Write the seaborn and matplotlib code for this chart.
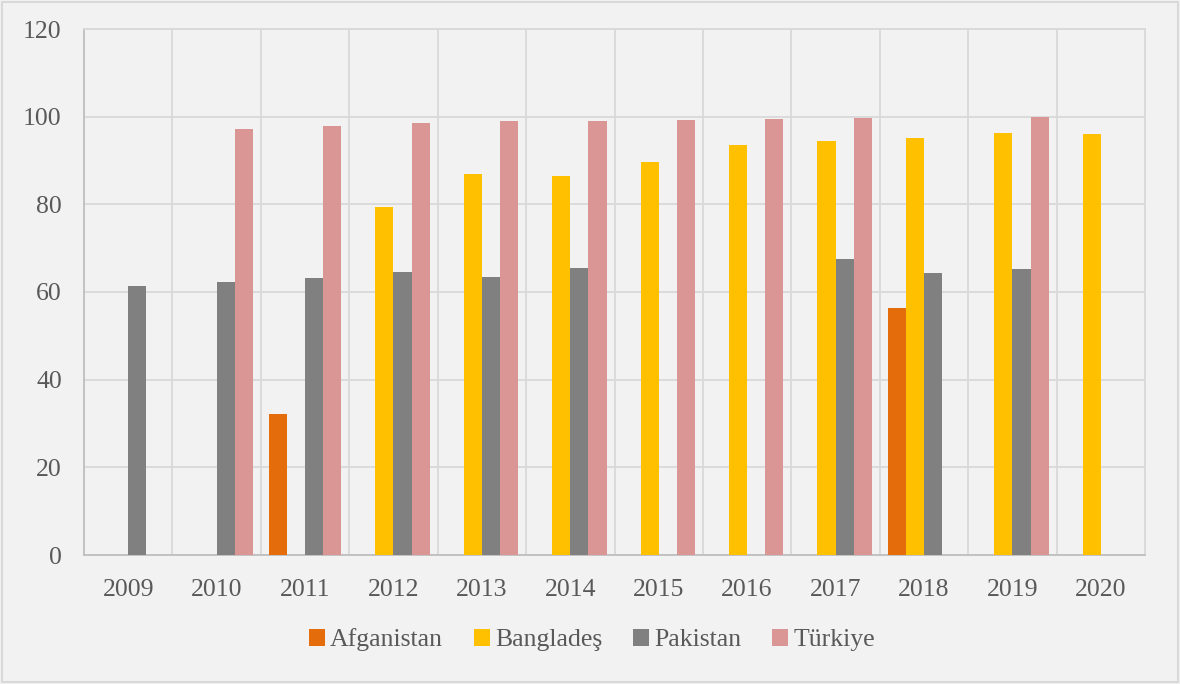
import matplotlib
matplotlib.use("Agg")
import matplotlib.pyplot as plt
import numpy as np
import pandas as pd
import seaborn as sns
from matplotlib.patches import Rectangle

years = ['2009', '2010', '2011', '2012', '2013', '2014',
         '2015', '2016', '2017', '2018', '2019', '2020']
countries = ['Afganistan', 'Bangladeş', 'Pakistan', 'Türkiye']

# values, nan = no bar
afganistan = [np.nan, np.nan, 32.2, np.nan, np.nan, np.nan,
              np.nan, np.nan, np.nan, 56.4, np.nan, np.nan]
banglades = [np.nan, np.nan, np.nan, 79.4, 87.0, 86.5,
             89.7, 93.6, 94.5, 95.1, 96.2, 96.0]
pakistan = [61.4, 62.3, 63.2, 64.5, 63.4, 65.5,
            np.nan, np.nan, 67.6, 64.4, 65.3, np.nan]
turkiye = [np.nan, 97.2, 97.9, 98.5, 98.9, 99.0,
           99.2, 99.4, 99.7, np.nan, 100.0, np.nan]

colors = ['#E46C0A', '#FFC000', '#808080', '#D99694']

df = pd.DataFrame({'year': years, 'Afganistan': afganistan, 'Bangladeş': banglades,
                   'Pakistan': pakistan, 'Türkiye': turkiye})
long = df.melt(id_vars='year', var_name='country', value_name='value').dropna()

sns.set_style('white')
plt.rcParams['font.family'] = ['Liberation Serif', 'DejaVu Serif']

bg = '#F2F2F2'
text_col = '#595959'
grid_col = '#D9D9D9'

fig = plt.figure(figsize=(11.8, 6.84), dpi=100, facecolor=bg)
ax = fig.add_axes([84 / 1180, 1 - 555 / 684, (1145 - 84) / 1180, (555 - 29) / 684])
ax.set_facecolor(bg)

sns.barplot(data=long, x='year', y='value', hue='country', order=years,
            hue_order=countries, palette=colors, width=0.82, errorbar=None,
            saturation=1, linewidth=0, ax=ax, zorder=3)

ax.set_ylim(0, 120)
ax.set_xlim(-0.5, len(years) - 0.5)
ax.set_yticks(range(0, 121, 20))
ax.set_xticks(np.arange(0.5, len(years) - 0.5, 1), minor=True)
ax.grid(axis='y', which='major', color=grid_col, linewidth=1.3, zorder=0)
ax.grid(axis='x', which='minor', color=grid_col, linewidth=1.3, zorder=0)
ax.grid(axis='x', which='major', visible=False)
ax.set_axisbelow(True)

ax.tick_params(axis='both', which='both', length=0, labelsize=18.5, colors=text_col)
ax.tick_params(axis='y', pad=16)
ax.tick_params(axis='x', pad=17)
ax.set_xlabel('')
ax.set_ylabel('')

for side in ['top', 'right']:
    ax.spines[side].set_color(grid_col)
    ax.spines[side].set_linewidth(1.3)
for side in ['left', 'bottom']:
    ax.spines[side].set_color('#BFBFBF')
    ax.spines[side].set_linewidth(1.3)

handles, labels = ax.get_legend_handles_labels()
ax.legend(handles, labels, loc='center', bbox_to_anchor=(592 / 1180, 1 - 640 / 684),
          bbox_transform=fig.transFigure, ncol=4, frameon=False, fontsize=18.5,
          handlelength=0.62, handleheight=0.62, handletextpad=0.2, columnspacing=1.2,
          labelcolor=text_col)

fig.patches.append(Rectangle((0.002, 0.003), 0.996, 0.994, transform=fig.transFigure,
                             fill=False, edgecolor='#D9D9D9', linewidth=1.5))

fig.savefig('out.png', dpi=100, facecolor=bg)
